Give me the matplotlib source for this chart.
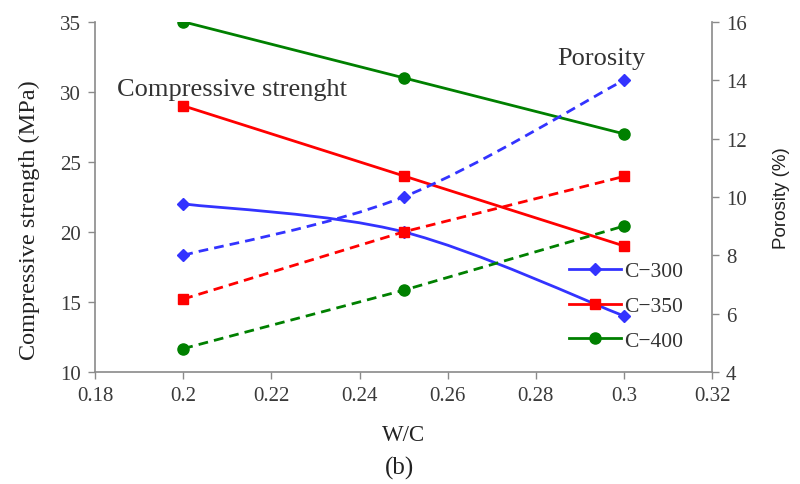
import matplotlib
matplotlib.use("Agg")
import matplotlib.pyplot as plt
from matplotlib.path import Path
from matplotlib.patches import PathPatch
from matplotlib.lines import Line2D

wc = [0.2, 0.25, 0.3]
series = ["C\u2212300", "C\u2212350", "C\u2212400"]
strength_c300 = [22, 20, 14]
strength_c350 = [29, 24, 19]
strength_c400 = [35, 31, 27]
porosity_c300 = [8.0, 10.0, 14.0]
porosity_c350 = [6.5, 8.8, 10.7]
porosity_c400 = [4.8, 6.8, 9.0]
x_ticks = [0.18, 0.2, 0.22, 0.24, 0.26, 0.28, 0.3, 0.32]
x_ticklabels = ["0.18", "0.2", "0.22", "0.24", "0.26", "0.28", "0.3", "0.32"]

plt.rcParams['font.family'] = ['Liberation Serif', 'DejaVu Serif']

colors = ['#3333ff', '#ff0000', '#008000']
markers = ['D', 's', 'o']
msizes = [6.5, 7.5, 8]
strengths = [strength_c300, strength_c350, strength_c400]
porosities = [porosity_c300, porosity_c350, porosity_c400]
smooth = [True, False, False]


def smooth_path(xs, ys):
    # Excel-style smoothed line: cubic Bezier segments through the data points
    pts = list(zip(xs, ys))
    verts = [pts[0]]
    codes = [Path.MOVETO]
    n = len(pts)
    for i in range(n - 1):
        p0 = pts[i - 1] if i > 0 else pts[i]
        p1 = pts[i]
        p2 = pts[i + 1]
        p3 = pts[i + 2] if i + 2 < n else pts[i + 1]
        c1 = (p1[0] + (p2[0] - p0[0]) / 6, p1[1] + (p2[1] - p0[1]) / 6)
        c2 = (p2[0] - (p3[0] - p1[0]) / 6, p2[1] - (p3[1] - p1[1]) / 6)
        verts += [c1, c2, p2]
        codes += [Path.CURVE4] * 3
    return Path(verts, codes)


fig = plt.figure(figsize=(8, 4.85), dpi=100)
ax = fig.add_axes([0.119, 0.231, 0.771, 0.722])
ax2 = ax.twinx()

dash = (0, (3.5, 2.2))
handles = []
for s, p, c, m, ms, lab, sm in zip(strengths, porosities, colors, markers, msizes, series, smooth):
    if sm:
        ax.add_patch(PathPatch(smooth_path(wc, s), facecolor='none', edgecolor=c, linewidth=2))
        ax.plot(wc, s, color=c, marker=m, markersize=ms, linestyle='none')
        ax2.add_patch(PathPatch(smooth_path(wc, p), facecolor='none', edgecolor=c, linewidth=2,
                                linestyle=dash))
        ax2.plot(wc, p, color=c, marker=m, markersize=ms, linestyle='none')
    else:
        ax.plot(wc, s, color=c, marker=m, markersize=ms, linewidth=2)
        ax2.plot(wc, p, color=c, marker=m, markersize=ms, linewidth=2, linestyle=dash)
    handles.append(Line2D([], [], color=c, marker=m, markersize=ms, linewidth=2, label=lab))

ax.set_xlim(0.18, 0.32)
ax.set_ylim(10, 35)
ax2.set_ylim(4, 16)
ax.set_xticks(x_ticks)
ax.set_xticklabels(x_ticklabels)
ax.set_yticks([10, 15, 20, 25, 30, 35])
ax2.set_yticks([4, 6, 8, 10, 12, 14, 16])

gray = '#8a8a8a'
for a in (ax, ax2):
    a.spines['top'].set_visible(False)
    for sp in ('left', 'right', 'bottom'):
        a.spines[sp].set_color(gray)
        a.spines[sp].set_linewidth(1.2)
    a.tick_params(colors=gray, labelcolor='#3a3a3a', labelsize=15, length=5, width=1, pad=5)
ax.spines['right'].set_visible(False)
ax2.spines['left'].set_visible(False)
ax2.spines['bottom'].set_visible(False)

ax.set_ylabel("Compressive strength (MPa)", fontsize=17.5, color='#222222')
ax.yaxis.set_label_coords(-0.09, 0.437)
ax2.set_ylabel("Porosity (%)", fontsize=13.5, color='#222222',
               family=['Liberation Sans', 'DejaVu Sans'])
ax2.yaxis.set_label_coords(1.099, 0.5)
ax.set_xlabel("W/C", fontsize=16.5, color='#222222')
ax.xaxis.set_label_coords(0.5, -0.15)
fig.text(0.5, 0.035, "(b)", ha='center', va='center', fontsize=18, color='#222222')

ax.text(0.185, 30.2, "Compressive strenght", fontsize=19, color='#333333', va='center')
ax.text(0.2848, 32.45, "Porosity", fontsize=19, color='#333333', va='center')

leg = ax.legend(handles=handles, loc='center', bbox_to_anchor=(0.861, 0.188),
                frameon=False, fontsize=15.5, handlelength=2.4, handletextpad=0.15,
                labelspacing=0.68, labelcolor='#333333')

fig.savefig("out.png", dpi=100)
